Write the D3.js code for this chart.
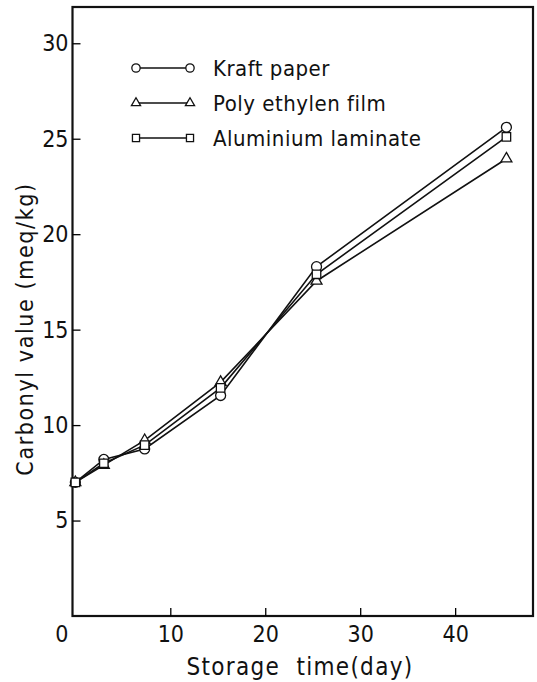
<!DOCTYPE html>
<html>
<head>
<meta charset="utf-8">
<script src="https://cdn.jsdelivr.net/npm/d3@7"></script>
<style>
  body { margin: 0; background: #fff; }
  svg text { font-family: "DejaVu Sans Condensed", "DejaVu Sans", sans-serif; fill: #111; }
</style>
</head>
<body>
<div class="chart-box"></div>
<script>
// storage time (day) and carbonyl values (meq/kg)
var days = [0, 3, 7.3, 15.3, 25.4, 45.4];
var kraft_paper = [7.0, 8.2, 8.75, 11.55, 18.3, 25.6];
var poly_film = [7.0, 7.9, 9.2, 12.25, 17.55, 23.95];
var alu_laminate = [7.0, 8.0, 8.95, 11.95, 17.9, 25.1];
var series_names = ['Kraft paper', 'Poly ethylen film', 'Aluminium laminate'];
var x_ticks = [0, 10, 20, 30, 40];
var y_ticks = [5, 10, 15, 20, 25, 30];

var width = 537,
    height = 682;

var svg = d3.select('.chart-box').append('svg')
    .attr('width', width)
    .attr('height', height);

var x = d3.scaleLinear().domain([-0.3, 48.2]).range([72.5, 533]);
var y = d3.scaleLinear().domain([0, 31.9]).range([616, 7]);

var series = [
  {name: series_names[0], vals: kraft_paper, shape: d3.symbolCircle, size: 78},
  {name: series_names[1], vals: poly_film, shape: d3.symbolTriangle, size: 52},
  {name: series_names[2], vals: alu_laminate, shape: d3.symbolSquare, size: 72}
];

// frame
svg.append('rect')
    .attr('x', x.range()[0])
    .attr('y', y.range()[1])
    .attr('width', x.range()[1] - x.range()[0])
    .attr('height', y.range()[0] - y.range()[1])
    .attr('fill', 'none')
    .attr('stroke', '#111')
    .attr('stroke-width', 2.2);

var xAxis = svg.append('g')
    .attr('transform', 'translate(0,' + y.range()[0] + ')')
    .call(d3.axisBottom(x).tickValues(x_ticks).tickSize(-8).tickPadding(10).tickFormat(d3.format('d')));
xAxis.selectAll('text')
    .style('font-size', '23px')
    .attr('dx', function(d) { return d === 0 ? -14 : 0; });
xAxis.selectAll('.tick line')
    .attr('stroke-width', 1.3)
    .attr('opacity', function(d) { return d === 0 ? 0 : 1; });

var yAxis = svg.append('g')
    .attr('transform', 'translate(' + x.range()[0] + ',0)')
    .call(d3.axisLeft(y).tickValues(y_ticks).tickSize(-8).tickPadding(4));
yAxis.selectAll('text').style('font-size', '23px');
yAxis.selectAll('.tick line').attr('stroke-width', 1.3);
svg.selectAll('.domain').remove();

// axis titles
svg.append('text')
    .attr('x', 300)
    .attr('y', 675)
    .attr('text-anchor', 'middle')
    .style('font-size', '24px')
    .style('letter-spacing', '1.3px')
    .style('white-space', 'pre')
    .text('Storage  time(day)');

svg.append('text')
    .attr('transform', 'translate(33,329) rotate(-90)')
    .attr('text-anchor', 'middle')
    .style('font-size', '23px')
    .style('letter-spacing', '1.6px')
    .text('Carbonyl value (meq/kg)');

var line = d3.line()
    .x(function(d) { return x(d[0]); })
    .y(function(d) { return y(d[1]); });

series.forEach(function(s) {
  var pts = days.map(function(d, i) { return [d, s.vals[i]]; });
  svg.append('path')
      .datum(pts)
      .attr('d', line)
      .attr('fill', 'none')
      .attr('stroke', '#111')
      .attr('stroke-width', 1.6);
  svg.selectAll(null)
      .data(pts)
      .enter().append('path')
      .attr('d', d3.symbol().type(s.shape).size(s.size))
      .attr('transform', function(d) { return 'translate(' + x(d[0]) + ',' + y(d[1]) + ')'; })
      .attr('fill', '#fff')
      .attr('stroke', '#111')
      .attr('stroke-width', 1.3);
});

// legend
var legend = svg.append('g').attr('class', 'legend');
series.forEach(function(s, i) {
  var ly = 68 + i * 35;
  legend.append('line')
      .attr('x1', 136).attr('x2', 190)
      .attr('y1', ly).attr('y2', ly)
      .attr('stroke', '#111')
      .attr('stroke-width', 1.6);
  [136, 190].forEach(function(lx) {
    legend.append('path')
        .attr('d', d3.symbol().type(s.shape).size(s.size * 0.7))
        .attr('transform', 'translate(' + lx + ',' + ly + ')')
        .attr('fill', '#fff')
        .attr('stroke', '#111')
        .attr('stroke-width', 1.3);
  });
  legend.append('text')
      .attr('x', 213)
      .attr('y', ly)
      .attr('dy', '0.35em')
      .style('font-size', '22px')
      .style('letter-spacing', '0.5px')
      .text(s.name);
});
</script>
</body>
</html>
